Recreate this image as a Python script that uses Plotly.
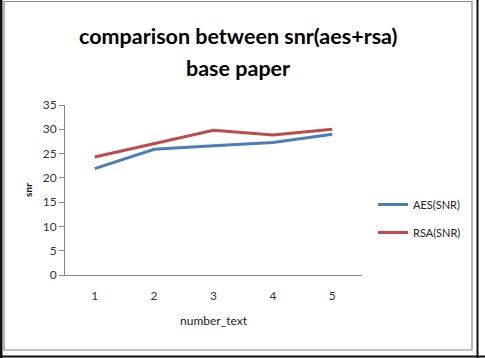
import plotly.graph_objects as go

categories = [1, 2, 3, 4, 5]
aes_snr = [21.9, 25.9, 26.6, 27.3, 29.0]
rsa_snr = [24.3, 27.0, 29.8, 28.8, 30.0]
y_ticks = [0, 5, 10, 15, 20, 25, 30, 35]

W, H = 485, 358
L, R, T, B = 65, 362, 105, 275  # plot area in pixels


def px(x):
    return (x - L) / (R - L)


def py(y):
    return (B - y) / (B - T)


fig = go.Figure()
fig.add_trace(go.Scatter(x=categories, y=aes_snr, mode="lines", name="AES(SNR)",
                         line=dict(color="#4A7EBB", width=3), legendgroup="a"))
fig.add_trace(go.Scatter(x=categories, y=rsa_snr, mode="lines", name="RSA(SNR)",
                         line=dict(color="#BE4B48", width=3), legendgroup="b"))

font = "Lato, 'Open Sans', sans-serif"

fig.update_layout(
    width=W, height=H,
    margin=dict(l=L, r=W - R, t=T, b=H - B),
    paper_bgcolor="white", plot_bgcolor="white",
    showlegend=True,
    legend=dict(x=px(373), y=py(190), xanchor="left", yanchor="top",
                font=dict(family=font, size=11, color="#222"),
                tracegroupgap=9, itemwidth=30, bgcolor="rgba(0,0,0,0)"),
    xaxis=dict(range=[0.5, 5.5], tickvals=categories, showgrid=False, zeroline=False,
               showline=True, linecolor="#888", linewidth=1, ticks="outside", ticklen=10,
               tickcolor="rgba(0,0,0,0)",
               tickfont=dict(family=font, size=12, color="#333"),
               title=dict(text="number_text", font=dict(family=font, size=12, color="#222"), standoff=14)),
    yaxis=dict(range=[0, 35], tickvals=y_ticks, showgrid=False, zeroline=False,
               showline=True, linecolor="#888", linewidth=1, ticks="outside", ticklen=5,
               tickcolor="#888",
               tickfont=dict(family=font, size=12, color="#333"),
               title=dict(text="<b>snr</b>", font=dict(family=font, size=10, color="#111"), standoff=8)),
)

fig.add_annotation(text="<b>comparison between snr(aes+rsa)</b>", xref="paper", yref="paper",
                   x=px(238), y=py(36), showarrow=False, xanchor="center", yanchor="middle",
                   font=dict(family=font, size=21.5, color="black"))
fig.add_annotation(text="<b>base paper</b>", xref="paper", yref="paper",
                   x=px(238), y=py(68), showarrow=False, xanchor="center", yanchor="middle",
                   font=dict(family=font, size=21.5, color="black"))

# frame lines
fig.add_shape(type="rect", xref="paper", yref="paper", x0=px(0), x1=px(2.5), y0=py(358), y1=py(0),
              fillcolor="#111", line=dict(width=0), layer="above")
fig.add_shape(type="rect", xref="paper", yref="paper", x0=px(4), x1=px(472), y0=py(350), y1=py(1.5),
              fillcolor="rgba(0,0,0,0)", line=dict(color="#888", width=1.2), layer="above")
fig.add_shape(type="line", xref="paper", yref="paper", x0=px(477.5), x1=px(477.5), y0=py(358), y1=py(0),
              line=dict(color="#111", width=2), layer="above")
fig.add_shape(type="line", xref="paper", yref="paper", x0=px(0), x1=px(485), y0=py(356.5), y1=py(356.5),
              line=dict(color="#111", width=2), layer="above")

fig.write_html("out.html")
